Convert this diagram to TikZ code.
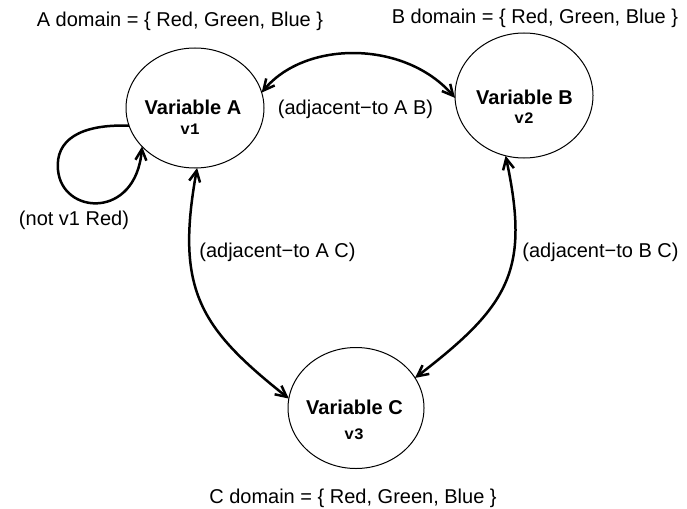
\documentclass[tikz,border=0pt]{standalone}
\usepackage{fontspec}
\setmainfont{Liberation Sans}
\newfontfamily\codefont{Liberation Mono}
\usetikzlibrary{arrows.meta,shapes.geometric}
\begin{document}
\begin{tikzpicture}[x=1pt,y=-1pt,
  var/.style={draw,ellipse,line width=1pt,inner sep=0pt,outer sep=0pt},
  barb/.tip={Straight Barb[length=11pt,width=11pt]},
  conn/.style={line width=2.5pt,barb-barb},
  loopconn/.style={line width=2.5pt,-barb},
  txt/.style={font=\fontsize{20}{24}\selectfont,inner sep=0pt,anchor=base},
  vname/.style={font=\fontsize{20}{24}\selectfont\bfseries,inner sep=0pt,anchor=base},
  vcode/.style={font=\fontsize{16}{19}\selectfont\codefont\bfseries,inner sep=0pt,anchor=base}]
\useasboundingbox (0,0) rectangle (687,508);

% variables
\node[var,minimum width=138pt,minimum height=120pt] (A) at (195,108) {};
\node[var,minimum width=138pt,minimum height=125pt] (B) at (524,95.5) {};
\node[var,minimum width=136pt,minimum height=121pt] (C) at (356,408) {};

\node[vname] (An) at (193,114) {Variable A};
\node[vcode] (Ac) at (190,134) {v1};
\node[vname] (Bn) at (524.5,104) {Variable B};
\node[vcode] (Bc) at (524,123) {v2};
\node[vname] (Cn) at (354.5,414) {Variable C};
\node[vcode] (Cc) at (354,439) {v3};

% domains
\node[txt] (Ad) at (180,27) {A domain = \{ Red, Green, Blue \}};
\node[txt] (Bd) at (535,24) {B domain = \{ Red, Green, Blue \}};
\node[txt] (Cd) at (353,503) {C domain = \{ Red, Green, Blue \}};

% constraint labels
\node[txt] (lab) at (355.5,114) {(adjacent−to A B)};
\node[txt] (lac) at (277.5,257.5) {(adjacent−to A C)};
\node[txt] (lbc) at (600.5,257.5) {(adjacent−to B C)};
\node[txt] (lnr) at (74,225) {(not v1 Red)};

% connectors
\draw[conn] (A.13) .. controls (305,40) and (405,40) .. (B.182);
\draw[conn] (A.-88) .. controls (175,290) and (200,328) .. (C.172);
\draw[conn] (B.-107.7) .. controls (530,270) and (510,305) .. (C.27);
\draw[loopconn] (A.195.5) .. controls (80,124) and (55,140) .. (58,170)
   .. controls (62,215) and (136,220) .. (A.216);
\end{tikzpicture}
\end{document}
